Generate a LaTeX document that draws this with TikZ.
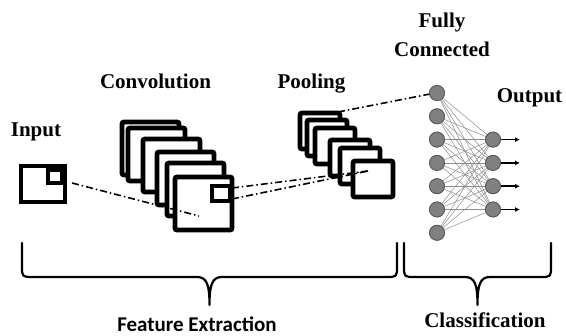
\documentclass[tikz,border=0pt]{standalone}
\usepackage{fontspec}
\setmainfont{Liberation Serif}
\newfontfamily\calfont{Carlito}
\usetikzlibrary{arrows.meta}
\begin{document}
\begin{tikzpicture}[x=1pt,y=-1pt,
  frame/.style={draw=black, fill=white, line width=4.8pt, rounded corners=2pt},
  mark box/.style={draw=black, fill=white, line width=4pt},
  dashdot/.style={line width=1.6pt, dash pattern=on 7pt off 3pt on 1.5pt off 3pt},
  lbl/.style={font=\fontsize{21}{24}\selectfont\bfseries, anchor=base, inner sep=0pt},
  sanslbl/.style={font=\calfont\fontsize{21}{24}\selectfont\bfseries, anchor=base, inner sep=0pt},
  neuron/.style={circle, draw=black!65, fill=black!50, line width=0.8pt, minimum size=15pt, inner sep=0pt},
  link/.style={draw=black!45, line width=0.5pt},
  outarrow/.style={line width=1.5pt, -{Latex[length=5pt,width=5pt]}},
  brace/.style={line width=2.2pt, line join=round, line cap=round}
]
\useasboundingbox (0,0) rectangle (566,336);

% labels
\node[lbl] (tin) at (36,137) {Input};
\node[lbl] (tconv) at (155.5,89) {Convolution};
\node[lbl] (tpool) at (311.5,89) {Pooling};
\node[lbl] (tfully) at (442,28) {Fully};
\node[lbl] (tconn) at (442,57) {Connected};
\node[lbl] (tout) at (529.5,103) {Output};
\node[sanslbl] (tfe) at (197,332) {Feature Extraction};
\node[lbl] (tcl) at (485,328) {Classification};

% input image
\draw[mark box] (21,166) rectangle (65,202);
\draw[mark box] (48,170) rectangle (62,183);

% convolution stack
\foreach \x/\y in {122/122,128/128,143/139,157/152,167/163,175/177}
  \draw[frame] (\x,\y) rectangle ++(57,53);
\draw[mark box] (212,186) rectangle (230,201);

% pooling stack
\foreach \x/\y in {300/113,307/120,315/128,330/140,340/148,353/161}
  \draw[frame] (\x,\y) rectangle ++(40,36);

% dash-dot links
\coordinate (a1) at (72,183);
\coordinate (a2) at (199,216);
\coordinate (b1) at (232,188);
\coordinate (b2) at (232,199);
\coordinate (b3) at (368,171);
\coordinate (c1) at (338,112);
\coordinate (c2) at (430,94);
\draw[dashdot] (a1) -- (a2);
\draw[dashdot] (b1) -- (b3);
\draw[dashdot] (b2) -- (b3);
\draw[dashdot] (c1) -- (c2);

% fully connected
\foreach \i in {0,...,6}
  \node[neuron] (h\i) at (437,{93+23.3*\i}) {};
\foreach \j in {0,...,3}
  \node[neuron] (o\j) at (493,{139.6+23.3*\j}) {};
\foreach \i in {0,...,6}
  \foreach \j in {0,...,3}
    \draw[link] (h\i) -- (o\j);
\foreach \i in {0,...,6}
  \node[neuron] at (h\i) {};
\foreach \j in {0,...,3}{
  \node[neuron] at (o\j) {};
  \coordinate (e\j) at ([xshift=27pt]o\j.center);
  \draw[outarrow] (o\j) -- (e\j);
}

% braces
\draw[brace] (22,243) -- (22,266) .. controls (22,277) .. (33,277) -- (197,277)
  .. controls (207,277) and (209.5,285) .. (209.5,305)
  .. controls (209.5,285) and (212,277) .. (222,277) -- (386,277)
  .. controls (397,277) .. (397,266) -- (397,243);
\draw[brace] (404,243) -- (404,266) .. controls (404,277) .. (415,277) -- (465,277)
  .. controls (475,277) and (477.5,285) .. (477.5,305)
  .. controls (477.5,285) and (480,277) .. (490,277) -- (540,277)
  .. controls (551,277) .. (551,266) -- (551,243);
\end{tikzpicture}
\end{document}
